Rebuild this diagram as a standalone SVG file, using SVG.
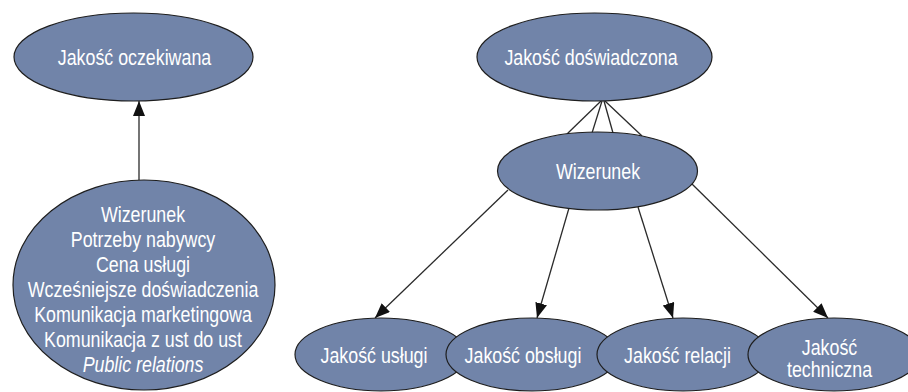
<svg xmlns="http://www.w3.org/2000/svg" width="908" height="392" viewBox="0 0 908 392">
<style>
.node{fill:#7184a9;stroke:#1e1e1e;stroke-width:1.2}
.lbl{font-family:"Liberation Sans",Arial,sans-serif;font-size:22px;fill:#ffffff;text-anchor:middle}
.it{font-style:italic}
.conn{stroke:#2a2a2a;stroke-width:1.3;fill:none}
</style>
<defs>
<marker id="arr" markerUnits="userSpaceOnUse" markerWidth="16" markerHeight="13" refX="15" refY="6" orient="auto">
<path d="M0,0 L15,6 L0,12 z" fill="#111"/>
</marker>
</defs>
<rect width="908" height="392" fill="#ffffff"/>
<g id="connectors">
<line class="conn" x1="139" y1="180" x2="139" y2="101" marker-end="url(#arr)"/>
<line class="conn" x1="601" y1="101" x2="567" y2="134"/>
<line class="conn" x1="602" y1="101" x2="592" y2="133"/>
<line class="conn" x1="604" y1="101" x2="613" y2="133"/>
<line class="conn" x1="605" y1="101" x2="642" y2="136"/>
<line class="conn" x1="508" y1="190" x2="375" y2="318" marker-end="url(#arr)"/>
<line class="conn" x1="569" y1="208" x2="537" y2="318" marker-end="url(#arr)"/>
<line class="conn" x1="638" y1="207" x2="673" y2="318" marker-end="url(#arr)"/>
<line class="conn" x1="692" y1="184" x2="828" y2="318" marker-end="url(#arr)"/>
</g>
<g id="oczekiwana">
<ellipse class="node" cx="133.5" cy="57" rx="119.5" ry="44"/>
<text class="lbl" transform="translate(134.5,65) scale(0.81,1)">Jakość oczekiwana</text>
</g>
<g id="czynniki">
<ellipse class="node" cx="144" cy="285" rx="131" ry="105"/>
<text class="lbl" transform="translate(143,221.5) scale(0.81,1)">Wizerunek</text>
<text class="lbl" transform="translate(143,246.6) scale(0.81,1)">Potrzeby nabywcy</text>
<text class="lbl" transform="translate(143,271.7) scale(0.81,1)">Cena usługi</text>
<text class="lbl" transform="translate(143,296.8) scale(0.81,1)">Wcześniejsze doświadczenia</text>
<text class="lbl" transform="translate(143,321.9) scale(0.81,1)">Komunikacja marketingowa</text>
<text class="lbl" transform="translate(143,347) scale(0.81,1)">Komunikacja z ust do ust</text>
<text class="lbl it" transform="translate(143,372.1) scale(0.81,1)">Public relations</text>
</g>
<g id="doswiadczona">
<ellipse class="node" cx="594.5" cy="57" rx="117.5" ry="44"/>
<text class="lbl" transform="translate(591,64.5) scale(0.81,1)">Jakość doświadczona</text>
</g>
<g id="wizerunek">
<ellipse class="node" cx="597.5" cy="171" rx="100" ry="39"/>
<text class="lbl" transform="translate(598,179) scale(0.81,1)">Wizerunek</text>
</g>
<g id="uslugi">
<ellipse class="node" cx="381" cy="354.5" rx="86" ry="36.5"/>
<text class="lbl" transform="translate(374,363) scale(0.81,1)">Jakość usługi</text>
</g>
<g id="obslugi">
<ellipse class="node" cx="532" cy="354.5" rx="86" ry="36.5"/>
<text class="lbl" transform="translate(523,363) scale(0.81,1)">Jakość obsługi</text>
</g>
<g id="relacji">
<ellipse class="node" cx="683" cy="354.5" rx="86" ry="36.5"/>
<text class="lbl" transform="translate(677.5,363) scale(0.81,1)">Jakość relacji</text>
</g>
<g id="techniczna">
<ellipse class="node" cx="834" cy="354.5" rx="86" ry="36.5"/>
<text class="lbl" transform="translate(829.5,354.5) scale(0.81,1)">Jakość</text>
<text class="lbl" transform="translate(829.5,377) scale(0.81,1)">techniczna</text>
</g>
</svg>
